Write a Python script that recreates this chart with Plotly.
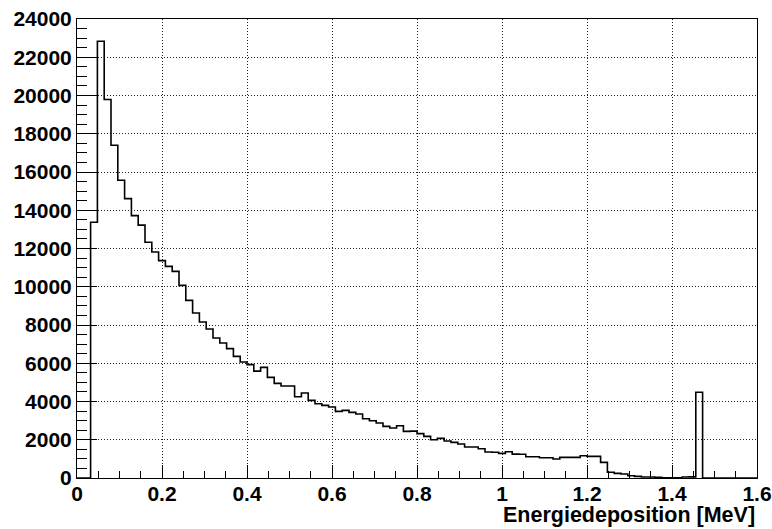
import numpy as np
import plotly.graph_objects as go

# Histogram definition: 100 bins from 0 to 1.6 MeV
bin_low = 0.0
bin_high = 1.6
counts = [
    0, 0, 13370, 22840, 19790, 17400, 15570, 14610, 13720, 13220,
    12330, 11820, 11365, 11067, 10806, 10073, 9289, 8630, 8159, 7793,
    7322, 7061, 6763, 6360, 6067, 5926, 5590, 5785, 5262, 4950,
    4810, 4810, 4250, 4446, 4060, 3886, 3797, 3713, 3483, 3535,
    3431, 3347, 3101, 2997, 2877, 2699, 2615, 2735, 2437, 2450,
    2320, 2176, 2003, 2071, 1935, 1862, 1778, 1621, 1621, 1532,
    1360, 1350, 1290, 1375, 1250, 1240, 1115, 1115, 1062, 1062,
    994, 1077, 1077, 1077, 1166, 1130, 1130, 816, 300, 240,
    209, 120, 84, 52, 52, 35, 10, 5, 5, 50,
    60, 4480, 0, 0, 0, 0, 0, 0, 0, 0,
]
x_title = "Energiedeposition [MeV]"

edges = np.linspace(bin_low, bin_high, len(counts) + 1)
yvals = list(counts) + [counts[-1]]

FONT = "Liberation Sans"

fig = go.Figure()
fig.add_trace(go.Scatter(
    x=edges, y=yvals, mode="lines",
    line=dict(shape="hv", color="black", width=1.6),
    showlegend=False, hoverinfo="skip",
))

fig.update_layout(
    width=772, height=529,
    margin=dict(l=77, r=15, t=19, b=51, autoexpand=False),
    paper_bgcolor="white", plot_bgcolor="white",
    font=dict(family=FONT, size=21, color="black", weight="bold"),
    xaxis=dict(
        range=[0, 1.6], dtick=0.2, tick0=0, automargin=False,
        showgrid=True, gridcolor="#222", griddash="1px,2px", gridwidth=1,
        ticks="inside", ticklen=13, tickwidth=1, tickcolor="black",
        minor=dict(dtick=0.05, ticks="inside", ticklen=7, tickcolor="black", showgrid=False),
        showline=True, linecolor="black", linewidth=1, mirror=True,
        zeroline=False, ticklabelstandoff=-3,
        tickfont=dict(family=FONT, size=21, color="black", weight="bold"),
    ),
    yaxis=dict(
        range=[0, 24000], dtick=2000, tick0=0, tickformat="d", automargin=False,
        showgrid=True, gridcolor="#222", griddash="1px,2px", gridwidth=1,
        ticks="inside", ticklen=20, tickwidth=1, tickcolor="black",
        minor=dict(dtick=500, ticks="inside", ticklen=10, tickcolor="black", showgrid=False),
        showline=True, linecolor="black", linewidth=1, mirror=True,
        zeroline=False,
        tickfont=dict(family=FONT, size=21, color="black", weight="bold"),
    ),
    annotations=[dict(
        text=x_title, xref="paper", yref="paper", x=1.0, y=-0.111,
        xanchor="right", yanchor="bottom", showarrow=False,
        font=dict(family=FONT, size=21.5, color="black", weight="bold"),
    )],
)

fig.write_html("out.html")
